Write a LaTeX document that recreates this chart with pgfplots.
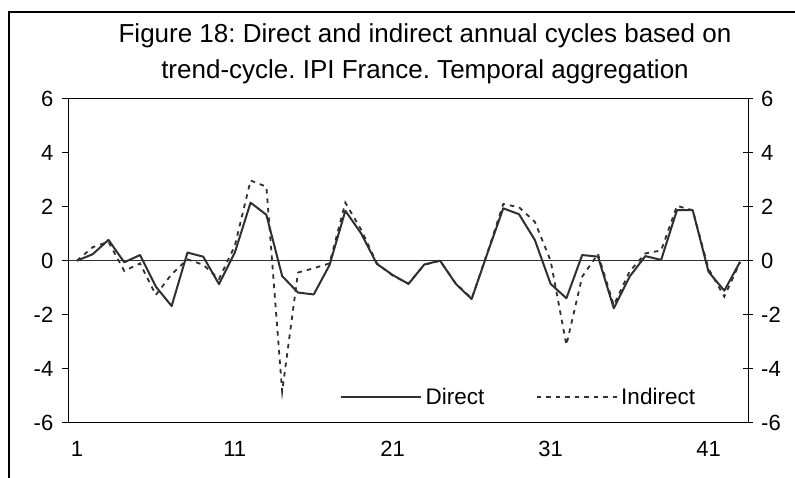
\documentclass[border=0pt]{standalone}
\usepackage{pgfplots}
\usepackage{pgfplotstable}
\pgfplotsset{compat=1.18}
\usepackage{fontspec}
\setmainfont{Liberation Sans}
\frenchspacing
\definecolor{ln}{HTML}{303030}

\pgfplotstableread{
k direct indirect
1 0.00 0.00
2 0.24 0.50
3 0.77 0.70
4 -0.06 -0.38
5 0.21 -0.10
6 -0.96 -1.27
7 -1.68 -0.50
8 0.30 0.05
9 0.15 -0.15
10 -0.87 -0.68
11 0.30 0.55
12 2.15 2.97
13 1.70 2.74
14 -0.57 -4.85
15 -1.18 -0.44
16 -1.25 -0.28
17 -0.16 -0.10
18 1.85 2.15
19 1.01 1.15
20 -0.12 -0.10
21 -0.53 -0.55
22 -0.86 -0.85
23 -0.14 -0.15
24 0.00 0.00
25 -0.86 -0.85
26 -1.42 -1.40
27 0.28 0.30
28 1.94 2.10
29 1.72 1.98
30 0.77 1.44
31 -0.86 0.00
32 -1.39 -3.12
33 0.21 -0.59
34 0.15 0.25
35 -1.76 -1.65
36 -0.59 -0.40
37 0.17 0.27
38 0.03 0.38
39 1.87 2.03
40 1.87 1.87
41 -0.41 -0.30
42 -1.11 -1.33
43 -0.04 -0.05
}\datatable

\begin{document}
\begin{tikzpicture}[x=1pt,y=1pt]
\clip (0,0) rectangle (795,477);
\fill[white] (0,0) rectangle (795,477);
\draw[line width=1.2pt] (9,-5) -- (9,465) -- (800,465);
\node[anchor=base, font=\fontsize{26}{30}\selectfont, inner sep=0pt] at (425,434) {Figure 18: Direct and indirect annual cycles based on};
\node[anchor=base, font=\fontsize{26}{30}\selectfont, inner sep=0pt] at (425,398) {trend-cycle. IPI France. Temporal aggregation};

\begin{axis}[
  at={(69pt,54.3pt)}, anchor=south west,
  scale only axis, width=679pt, height=324pt,
  xmin=0.5, xmax=43.5, ymin=-6, ymax=6,
  xtick={1,11,21,31,41}, xticklabels={1,11,21,31,41},
  ytick={-6,-4,-2,0,2,4,6}, yticklabels={-6,-4,-2,0,2,4,6},
  axis line style={line width=1pt, black},
  ytick pos=left, xtick pos=bottom,
  tick align=outside, major tick length=6.5pt,
  y tick style={black, line width=0.8pt},
  x tick style={draw=none},
  ticklabel style={font=\fontsize{22}{26}\selectfont, inner sep=0pt},
  xticklabel style={yshift=-12pt},
  yticklabel style={xshift=-9pt},
  legend style={at={(0.3991,0.079)}, anchor=west, draw=none, fill=none,
    inner sep=0pt, font=\fontsize{22.5}{26}\selectfont,
    nodes={inner sep=3.5pt},
    /tikz/every even column/.append style={column sep=48pt}},
  legend columns=2,
  legend image code/.code={\draw[#1] (0pt,0pt) -- (80pt,0pt);},
  clip=false,
]
\draw[line width=1.3pt, ln] (axis cs:0.5,0) -- (axis cs:43.5,0);
\addplot[ln, line width=2pt, line join=round] table[x=k, y=direct] {\datatable};
\addlegendentry{Direct}
\addplot[ln, line width=1.8pt, dash pattern=on 4.5pt off 5pt] table[x=k, y=indirect] {\datatable};
\addlegendentry{Indirect}
\end{axis}

\begin{axis}[
  at={(69pt,54.3pt)}, anchor=south west,
  scale only axis, width=679pt, height=324pt,
  xmin=0.5, xmax=43.5, ymin=-6, ymax=6,
  axis x line=none, axis y line*=right,
  ytick={-6,-4,-2,0,2,4,6}, yticklabels={-6,-4,-2,0,2,4,6},
  axis line style={line width=1pt, black},
  tick align=center, major tick length=10pt,
  y tick style={black, line width=0.8pt},
  ticklabel style={font=\fontsize{22}{26}\selectfont, inner sep=0pt},
  yticklabel style={anchor=west, xshift=8pt},
]
\end{axis}
\end{tikzpicture}
\end{document}
